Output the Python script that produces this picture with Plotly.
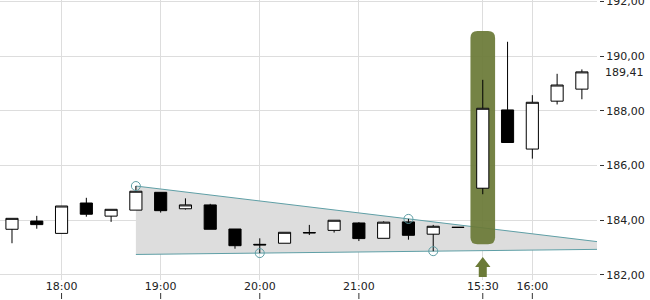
import plotly.graph_objects as go

# ---- data ----
times = ["17:30", "17:45", "18:00", "18:15", "18:30", "18:45", "19:00", "19:15",
         "19:30", "19:45", "20:00", "20:15", "20:30", "20:45", "21:00", "21:15",
         "21:30", "21:45", "22:00", "15:30", "15:45", "16:00", "16:15", "16:30"]
opens  = [183.67, 183.97, 183.52, 184.63, 184.15, 184.37, 185.02, 184.42,
          184.56, 183.68, 183.12, 183.16, 183.55, 183.63, 183.90, 183.34,
          183.94, 183.49, 183.74, 185.17, 188.03, 186.60, 188.35, 188.79]
highs  = [184.07, 184.16, 184.52, 184.82, 184.40, 185.25, 185.02, 184.80,
          184.60, 183.68, 183.34, 183.56, 183.83, 184.00, 183.93, 183.96,
          184.05, 183.83, 183.74, 189.13, 190.52, 188.57, 189.35, 189.51]
lows   = [183.16, 183.69, 183.52, 184.13, 183.94, 184.37, 184.28, 184.39,
          183.67, 182.96, 182.80, 183.16, 183.46, 183.55, 183.24, 183.34,
          183.29, 182.87, 183.74, 184.95, 186.84, 186.25, 188.23, 188.42]
closes = [184.07, 183.84, 184.52, 184.22, 184.40, 185.06, 184.35, 184.56,
          183.67, 183.07, 183.10, 183.56, 183.54, 184.00, 183.33, 183.93,
          183.45, 183.78, 183.74, 188.09, 186.84, 188.31, 188.94, 189.42]
tick_labels = ["18:00", "19:00", "20:00", "21:00", "15:30", "16:00"]
last_price = 189.41
upper_anchor_idx = [5, 16]   # trend line through highs
lower_anchor_idx = [10, 17]  # trend line through lows
signal_idx = 19
signal_box = [183.12, 190.91]

# ---- geometry helpers ----
W, H = 650, 300
plot_right = 597
plot_bottom = 280
x_lo, x_hi = -0.484, 23.61
y_lo, y_hi = 181.817, 192.046
px_x = (x_hi - x_lo) / plot_right        # data units per px (x)
px_y = (y_hi - y_lo) / plot_bottom       # data units per px (y)

idx = list(range(len(times)))
tick_idx = [times.index(t) for t in tick_labels]

def line_at(ax, ay, x):
    (x0, x1), (y0, y1) = ax, ay
    return y0 + (y1 - y0) * (x - x0) / (x1 - x0)

u_vals = [highs[i] for i in upper_anchor_idx]
l_vals = [lows[i] for i in lower_anchor_idx]
start = upper_anchor_idx[0]
u0, u1 = line_at(upper_anchor_idx, u_vals, start), line_at(upper_anchor_idx, u_vals, x_hi)
l0, l1 = line_at(lower_anchor_idx, l_vals, start), line_at(lower_anchor_idx, l_vals, x_hi)

teal = "#5f9fa6"
green = "#6b7a37"

shapes = []
# channel fill and borders (under grid)
shapes.append(dict(type="path", xref="x", yref="y", layer="below",
                   path=f"M {start},{u0} L {x_hi},{u1} L {x_hi},{l1} L {start},{l0} Z",
                   fillcolor="rgb(221,221,221)", line=dict(width=0)))
shapes.append(dict(type="line", xref="x", yref="y", layer="between",
                   x0=start, y0=u0, x1=x_hi, y1=u1, line=dict(color=teal, width=1)))
shapes.append(dict(type="line", xref="x", yref="y", layer="between",
                   x0=start, y0=l0, x1=x_hi, y1=l1, line=dict(color=teal, width=1)))

# highlight box (rounded)
x0, x1 = signal_idx - 0.497, signal_idx + 0.497
y0, y1 = signal_box
rx, ry = 7 * px_x, 7 * px_y
path = (f"M {x0+rx},{y1} L {x1-rx},{y1} Q {x1},{y1} {x1},{y1-ry} "
        f"L {x1},{y0+ry} Q {x1},{y0} {x1-rx},{y0} L {x0+rx},{y0} "
        f"Q {x0},{y0} {x0},{y0+ry} L {x0},{y1-ry} Q {x0},{y1} {x0+rx},{y1} Z")
shapes.append(dict(type="path", path=path, xref="x", yref="y", fillcolor=green,
                   opacity=0.93, line=dict(width=0), layer="between"))

# arrow under signal
tip = y_lo + (plot_bottom - 257) * px_y
base = y_lo + (plot_bottom - 267) * px_y
bot = y_lo + (plot_bottom - 277) * px_y
hw, sw = 7.7 * px_x, 4 * px_x
s = signal_idx
apath = (f"M {s},{tip} L {s+hw},{base} L {s+sw},{base} L {s+sw},{bot} "
         f"L {s-sw},{bot} L {s-sw},{base} L {s-hw},{base} Z")
shapes.append(dict(type="path", path=apath, xref="x", yref="y",
                   fillcolor=green, line=dict(width=0), layer="between"))

# tick marks under x labels (paper coords so they are not clipped)
for t in tick_idx:
    xp = (t - x_lo) / (x_hi - x_lo) * plot_right / W
    shapes.append(dict(type="line", xref="paper", yref="paper", x0=xp, x1=xp,
                       y0=-(293 - plot_bottom) / plot_bottom,
                       y1=-(299 - plot_bottom) / plot_bottom,
                       line=dict(color="#333", width=1), layer="above"))

fig = go.Figure()
fig.add_trace(go.Candlestick(
    x=idx, open=opens, high=highs, low=lows, close=closes,
    increasing=dict(fillcolor="white", line=dict(color="black", width=1)),
    decreasing=dict(fillcolor="black", line=dict(color="black", width=1)),
    whiskerwidth=0, showlegend=False))

pts_x = upper_anchor_idx + lower_anchor_idx
pts_y = u_vals + l_vals
fig.add_trace(go.Scatter(x=pts_x, y=pts_y, mode="markers",
                         marker=dict(symbol="circle-open", size=9, color=teal,
                                     line=dict(width=1)),
                         showlegend=False))

font = dict(family="DejaVu Sans", size=11, color="#222")
fig.update_layout(
    width=W, height=H, margin=dict(l=0, r=0, t=0, b=H - plot_bottom),
    paper_bgcolor="white", plot_bgcolor="white",
    separators=",.", font=font, shapes=shapes,
    xaxis=dict(domain=[0, plot_right / W], range=[x_lo, x_hi],
               tickvals=tick_idx, ticktext=tick_labels, showgrid=True,
               gridcolor="#dddddd", gridwidth=1, zeroline=False,
               rangeslider=dict(visible=False), ticks="", showline=False,
               tickfont=font, automargin=False, ticklabelstandoff=-2),
    yaxis=dict(range=[y_lo, y_hi], side="right", anchor="free",
               position=599 / W, tickvals=[182, 184, 186, 188, 190, 192],
               tickformat=".2f", showgrid=True, gridcolor="#dddddd",
               gridwidth=1, zeroline=False, ticks="outside", ticklen=4,
               tickcolor="#333", showline=False, tickfont=font,
               ticklabeloverflow="allow", automargin=False),
    annotations=[dict(x=603 / W, y=last_price, xref="paper", yref="y",
                      text=f"{last_price:.2f}".replace(".", ","), showarrow=False,
                      xanchor="left", yanchor="middle", font=font)],
)
fig.write_html("out.html")
